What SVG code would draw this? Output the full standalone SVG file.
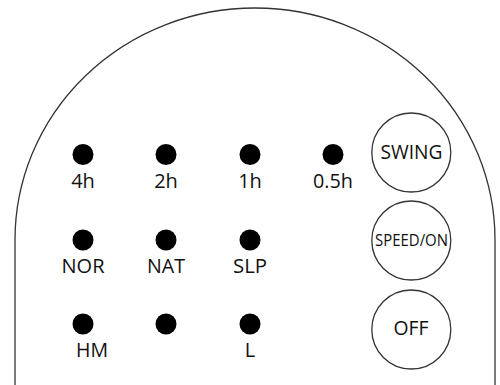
<svg xmlns="http://www.w3.org/2000/svg" width="500" height="385" viewBox="0 0 500 385">
<style>
.o{fill:none;stroke:#333;stroke-width:1.3}
.b{fill:#fff;stroke:#333;stroke-width:1.3}
.d{fill:#000}
text{font-family:"Open Sans","Liberation Sans",sans-serif;font-size:20px;fill:#111;text-anchor:middle}
</style>
<path id="outline" class="o" d="M15 385V240A240 232 0 0 1 495 240V385"/>
<g id="led-4h"><circle class="d" cx="83" cy="154.500" r="10.500"/><text x="83" y="188">4h</text></g>
<g id="led-2h"><circle class="d" cx="166" cy="154.500" r="10.500"/><text x="166" y="188">2h</text></g>
<g id="led-1h"><circle class="d" cx="250" cy="154.500" r="10.500"/><text x="250" y="188">1h</text></g>
<g id="led-05h"><circle class="d" cx="333" cy="154.500" r="10.500"/><text x="333" y="188" textLength="40" lengthAdjust="spacingAndGlyphs">0.5h</text></g>
<g id="led-nor"><circle class="d" cx="83" cy="240" r="10.500"/><text x="83" y="273" textLength="43" lengthAdjust="spacingAndGlyphs">NOR</text></g>
<g id="led-nat"><circle class="d" cx="166" cy="240" r="10.500"/><text x="166" y="273" textLength="38" lengthAdjust="spacingAndGlyphs">NAT</text></g>
<g id="led-slp"><circle class="d" cx="250" cy="240" r="10.500"/><text x="250" y="273" textLength="34" lengthAdjust="spacingAndGlyphs">SLP</text></g>
<g id="led-hm"><circle class="d" cx="83" cy="324" r="10.500"/><text x="92" y="357" textLength="32" lengthAdjust="spacingAndGlyphs">HM</text></g>
<g id="led-blank"><circle class="d" cx="166" cy="324" r="10.500"/></g>
<g id="led-l"><circle class="d" cx="250" cy="324" r="10.500"/><text x="250" y="357">L</text></g>
<g id="btn-swing"><circle class="b" cx="411.300" cy="152.500" r="39.500"/><text x="411.500" y="158.500" textLength="62" lengthAdjust="spacingAndGlyphs">SWING</text></g>
<g id="btn-speed"><circle class="b" cx="411.300" cy="240.500" r="39.500"/><text x="411.500" y="245.500" style="font-size:17px" textLength="73" lengthAdjust="spacingAndGlyphs">SPEED/ON</text></g>
<g id="btn-off"><circle class="b" cx="411.300" cy="329.500" r="39.500"/><text x="411" y="335" textLength="35" lengthAdjust="spacingAndGlyphs">OFF</text></g>
</svg>
